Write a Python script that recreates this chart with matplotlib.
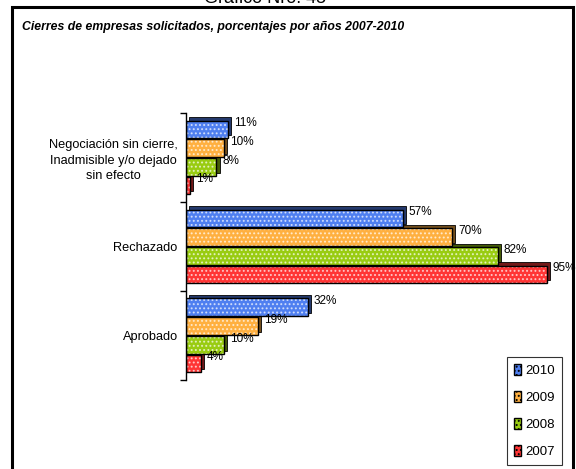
import matplotlib.pyplot as plt
from matplotlib.patches import Rectangle, Patch
import matplotlib.colors as mcolors

plt.rcParams['font.family'] = ['Liberation Sans Narrow', 'Liberation Sans', 'DejaVu Sans']
plt.rcParams['hatch.linewidth'] = 0.9

categories = ['Aprobado', 'Rechazado', 'Negociación sin cierre,\nInadmisible y/o dejado\nsin efecto']
years = ['2010', '2009', '2008', '2007']
values = {
    '2010': [32, 57, 11],
    '2009': [19, 70, 10],
    '2008': [10, 82, 8],
    '2007': [4, 95, 1],
}
colors = {'2010': '#4f7ff0', '2009': '#ffb040', '2008': '#99cc11', '2007': '#ff3535'}
offsets = {'2010': 0.315, '2009': 0.105, '2008': -0.105, '2007': -0.315}
h = 0.2

fig = plt.figure(figsize=(5.76, 4.69), dpi=100)
ax = fig.add_axes([0.323, 0.19, 0.66, 0.569])

# shadows (3d depth) first
for yr in years:
    dark = tuple(c * 0.45 for c in mcolors.to_rgb(colors[yr]))
    for i, v in enumerate(values[yr]):
        y = i + offsets[yr]
        ax.add_patch(Rectangle((0.8, y - h / 2 + 0.035), v, h, facecolor=dark,
                               edgecolor='black', linewidth=0.6, zorder=1))

for yr in years:
    ys = [i + offsets[yr] for i in range(len(categories))]
    ax.barh(ys, values[yr], height=h, color=colors[yr], edgecolor='#ffffffaa',
            hatch='....', linewidth=0, zorder=2)
    ax.barh(ys, values[yr], height=h, color='none', edgecolor='black',
            linewidth=1.0, zorder=3)
    for y, v in zip(ys, values[yr]):
        ax.text(v + 1.5, y + 0.07, f'{v}%', va='center', ha='left', fontsize=8.5, zorder=4)

ax.set_xlim(0, 100)
ax.set_ylim(-0.5, 2.5)
ax.set_yticks(range(len(categories)))
ax.set_yticklabels(categories, fontsize=9.2, multialignment='center', linespacing=1.35)
ax.tick_params(axis='y', which='major', length=0, pad=6)
ax.set_yticks([-0.5, 0.5, 1.5, 2.5], minor=True)
ax.tick_params(axis='y', which='minor', length=4, width=1)
ax.set_xticks([])
for s in ['top', 'right', 'bottom']:
    ax.spines[s].set_visible(False)
ax.spines['left'].set_linewidth(1.0)

handles = [Patch(facecolor=colors[yr], edgecolor='black', hatch='....', label=yr) for yr in years]
leg = fig.legend(handles=handles, loc='lower left', bbox_to_anchor=(507 / 576, 4 / 469),
                 fontsize=9.5, frameon=True, fancybox=False, edgecolor='black',
                 handlelength=0.5, handleheight=0.9, handletextpad=0.3,
                 labelspacing=1.05, borderpad=0.55, borderaxespad=0)
leg.get_frame().set_linewidth(0.8)

# outer frame
fig.patches.append(Rectangle((12 / 576, -0.05), 561 / 576, 1 - 7 / 469 + 0.05,
                             transform=fig.transFigure, fill=False,
                             edgecolor='black', linewidth=2.2))
fig.text(22 / 576, 1 - 27 / 469, 'Cierres de empresas solicitados, porcentajes por años 2007-2010',
         fontsize=8.8, fontweight='bold', fontstyle='italic', va='center', ha='left')
fig.text(265 / 576, 1 - 3 / 469, 'Gráfico Nro. 45', fontsize=13, ha='center', va='baseline')

fig.savefig('out.png', dpi=100)
